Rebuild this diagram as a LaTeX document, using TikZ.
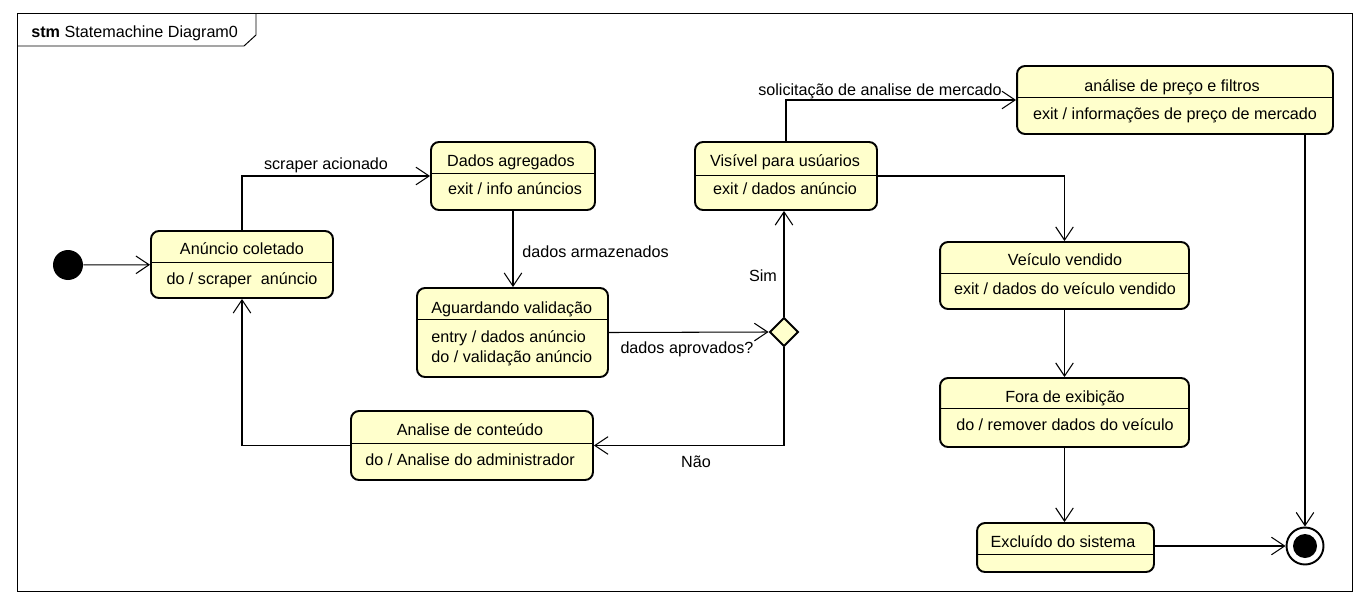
\documentclass[tikz,border=0pt]{standalone}
\usepackage{fontspec}
\setmainfont{Liberation Sans}
\usetikzlibrary{arrows.meta,shapes.geometric}
\definecolor{stfill}{RGB}{255,255,204}
\def\sepline(#1)(#2){\draw[line width=0.55pt] (#1.west |- 0,#2) -- (#1.east |- 0,#2);}

\tikzset{
	state/.style={draw, line width=1.1pt, fill=stfill, rounded corners=0.16cm, inner sep=0pt},
	txt/.style={inner sep=0pt, text height=8pt, text depth=1pt, font=\fontsize{9.2}{11}\selectfont},
	trans/.style={line width=0.6pt, -{Straight Barb[length=7.5pt,width=10pt]}},
}

\begin{document}
\begin{tikzpicture}[x=0.02cm, y=-0.02cm]
		%%%%% START %%%%%
		\useasboundingbox (0,0) rectangle (1368,605);
		
		\draw[line width=0.55pt] (17,13) rectangle (1352,591);
		\draw[line width=0.55pt] (17,46) -- (244,46) -- (256,35) -- (256,13);
		\node[txt, anchor=west] (titulo) at (31,31) {\textbf{stm} Statemachine Diagram0};
		
		\node[circle, fill=black, minimum size=0.6cm, inner sep=0pt] (inicio) at (68,265) {};
		
		\node[state, minimum width=3.64cm, minimum height=1.34cm] (coletado) at (242,264.5) {};
		\sepline(coletado)(262);
		\node[txt] (coletado-t) at (242,248) {Anúncio coletado};
		\node[txt] (coletado-b) at (242,278) {do / scraper\ \ anúncio};
		
		\node[state, minimum width=3.28cm, minimum height=1.36cm] (agregados) at (513,176) {};
		\sepline(agregados)(173);
		\node[txt] (agregados-t) at (511,160) {Dados agregados};
		\node[txt] (agregados-b) at (515,188) {exit / info anúncios};
		
		\node[state, minimum width=3.82cm, minimum height=1.78cm] (aguardando) at (512.5,332.5) {};
		\sepline(aguardando)(319);
		\node[txt, anchor=west] (aguardando-t) at (431,307) {Aguardando validação};
		\node[txt, anchor=west] (aguardando-b1) at (431,336) {entry / dados anúncio};
		\node[txt, anchor=west] (aguardando-b2) at (431,356) {do / validação anúncio};
		
		\node[state, minimum width=4.84cm, minimum height=1.38cm] (analise) at (472,445.5) {};
		\sepline(analise)(443);
		\node[txt] (analise-t) at (470,429) {Analise de conteúdo};
		\node[txt] (analise-b) at (470,459) {do / Analise do administrador};
		
		\node[diamond, draw, line width=1.1pt, fill=stfill, minimum width=0.58cm, minimum height=0.58cm, inner sep=0pt] (decisao) at (784,332) {};
		
		\node[state, minimum width=3.64cm, minimum height=1.36cm] (visivel) at (786,176) {};
		\sepline(visivel)(175);
		\node[txt] (visivel-t) at (785,160) {Visível para usúarios};
		\node[txt] (visivel-b) at (785,188) {exit / dados anúncio};
		
		\node[state, minimum width=6.32cm, minimum height=1.36cm] (preco) at (1175,100) {};
		\sepline(preco)(97);
		\node[txt] (preco-t) at (1172,85) {análise de preço e filtros};
		\node[txt] (preco-b) at (1175,113) {exit / informações de preço de mercado};
		
		\node[state, minimum width=4.98cm, minimum height=1.34cm] (vendido) at (1064.5,275.5) {};
		\sepline(vendido)(273);
		\node[txt] (vendido-t) at (1065,259) {Veículo vendido};
		\node[txt] (vendido-b) at (1065,288) {exit / dados do veículo vendido};
		
		\node[state, minimum width=4.98cm, minimum height=1.38cm] (fora) at (1064.5,412.5) {};
		\sepline(fora)(408);
		\node[txt] (fora-t) at (1065,396) {Fora de exibição};
		\node[txt] (fora-b) at (1065,424) {do / remover dados do veículo};
		
		\node[state, minimum width=3.54cm, minimum height=0.98cm] (excluido) at (1065.5,547.5) {};
		\sepline(excluido)(554);
		\node[txt] (excluido-t) at (1063,541) {Excluído do sistema};
		
		\node[circle, draw, line width=1.1pt, fill=white, minimum size=0.74cm, inner sep=0pt] (fim) at (1305,546) {};
		\node[circle, fill=black, minimum size=0.48cm, inner sep=0pt] (fim-in) at (fim) {};
		
		% transicoes
		\draw[trans] (inicio) -- (coletado);
		\draw[trans] (coletado.north) |- (agregados.west);
		\draw[trans] (agregados.south) -- (agregados.south |- aguardando.north);
		\draw[trans] (aguardando.east) -- (decisao.west);
		\draw[trans] (decisao.north) -- (decisao.north |- visivel.south);
		\draw[trans] (decisao.south) |- (analise.east);
		\draw[trans] (analise.west) -| (coletado.south);
		\draw[trans] (visivel.north) |- (preco.west);
		\draw[trans] (visivel.east) -| (vendido.north);
		\draw[trans] (vendido.south) -- (vendido.south |- fora.north);
		\draw[trans] (fora.south) -- (fora.south |- excluido.north);
		\draw[trans] (excluido.east |- fim) -- (fim.west);
		\draw[trans] (fim |- preco.south) -- (fim.north);
		
		\node[txt] (lbl-scraper) at (326,163) {scraper acionado};
		\node[txt, anchor=west] (lbl-armaz) at (522,251) {dados armazenados};
		\node[txt] (lbl-aprov) at (687,347) {dados aprovados?};
		\node[txt] (lbl-sim) at (763,275) {Sim};
		\node[txt] (lbl-nao) at (696,461) {Não};
		\node[txt] (lbl-mercado) at (880,89) {solicitação de analise de mercado};
		
		%%%%% END %%%%%
\end{tikzpicture}
\end{document}
